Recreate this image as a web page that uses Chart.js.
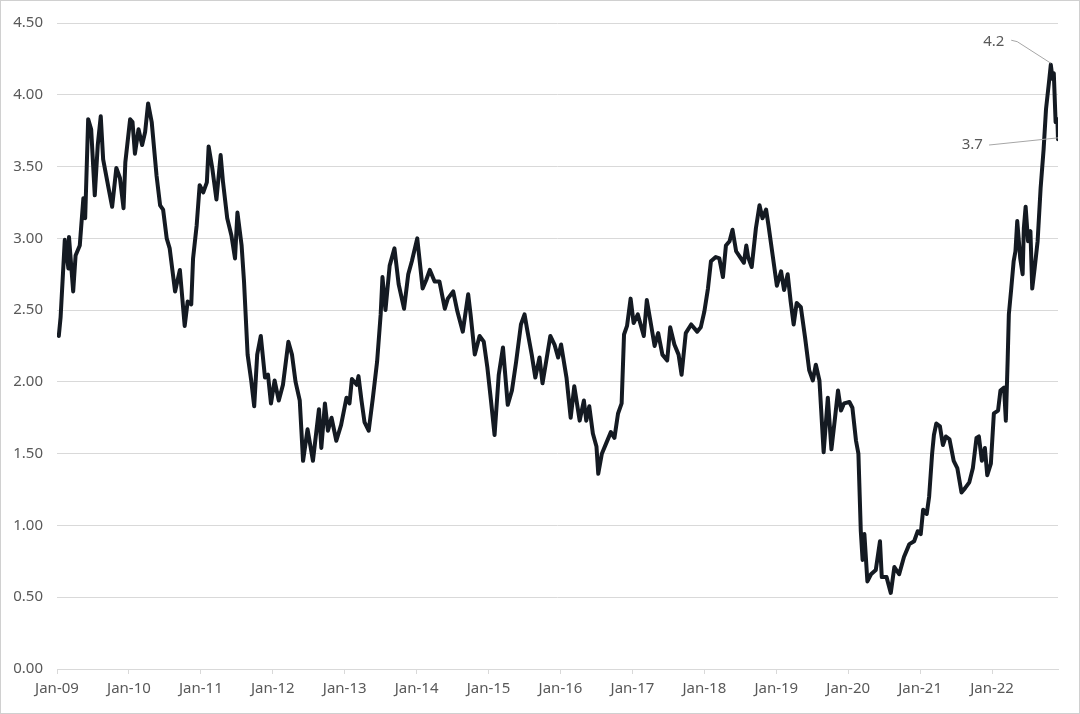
<!DOCTYPE html>
<html>
<head>
<meta charset="utf-8">
<script src="https://cdn.jsdelivr.net/npm/chart.js@4"></script>
<style>
  html, body { margin: 0; padding: 0; background: #fff; }
  #wrap { width: 1080px; height: 714px; }
</style>
</head>
<body>
<div id="wrap"><canvas id="myChart" width="1080" height="714"></canvas></div>
<script>
const months = [
  0.3, 0.6, 1.3, 1.9, 2.0, 2.7, 3.1, 3.8, 4.4, 4.7, 5.2, 5.7, 6.3, 6.8, 7.3, 7.7, 8.6, 9.2, 9.9, 10.5,
  11.1, 11.4, 12.2, 12.6, 13.0, 13.6, 14.2, 14.7, 15.2, 15.8, 16.6, 17.2, 17.7, 18.3, 18.8, 19.7, 20.5, 21.3, 21.8, 22.4,
  22.7, 23.3, 23.8, 24.4, 25.0, 25.3, 25.9, 26.6, 27.3, 27.7, 28.4, 29.1, 29.7, 30.1, 30.8, 31.2, 31.8, 32.4, 32.9, 33.4,
  34.0, 34.7, 35.2, 35.7, 36.3, 37.0, 37.7, 38.6, 39.2, 39.8, 40.5, 41.05, 41.8, 42.7, 43.7, 44.1, 44.7, 45.2, 45.8, 46.6,
  47.4, 48.3, 48.8, 49.2, 50.0, 50.3, 50.8, 51.3, 52.0, 52.7, 53.4, 54.0, 54.3, 54.8, 55.5, 56.3, 57.0, 57.9, 58.6, 59.2,
  60.1, 61.0, 61.6, 62.2, 63.0, 63.8, 64.7, 65.2, 66.1, 66.8, 67.7, 68.6, 69.0, 69.7, 70.5, 71.2, 71.8, 72.4, 73.0, 73.7,
  74.4, 75.2, 75.9, 76.6, 77.4, 78.0, 78.5, 79.2, 79.8, 80.5, 81.0, 81.6, 82.3, 83.0, 83.6, 84.1, 85.0, 85.7, 86.3, 87.2,
  87.9, 88.3, 88.8, 89.4, 90.0, 90.3, 90.9, 91.6, 92.4, 93.0, 93.6, 94.2, 94.6, 95.1, 95.7, 96.2, 96.9, 97.9, 98.4, 99.1,
  99.7, 100.3, 101.0, 101.8, 102.3, 103.0, 103.7, 104.2, 104.9, 105.8, 106.8, 107.4, 108.0, 108.6, 109.1, 109.9, 110.5, 111.1, 111.6, 112.2,
  112.7, 113.3, 114.1, 114.6, 115.0, 115.3, 115.9, 116.6, 117.2, 117.7, 118.3, 118.7, 119.4, 120.1, 120.8, 121.3, 121.9, 122.4, 122.9, 123.4,
  124.1, 124.8, 125.5, 126.1, 126.6, 127.2, 127.9, 128.6, 129.2, 129.8, 130.3, 130.8, 131.3, 132.2, 132.7, 133.3, 133.7, 134.1, 134.4, 134.7,
  135.2, 135.8, 136.6, 137.3, 137.6, 138.4, 139.1, 139.7, 140.5, 141.3, 142.2, 143.0, 143.6, 144.1, 144.5, 145.1, 145.5, 146.0, 146.3, 146.7,
  147.3, 147.8, 148.3, 148.9, 149.6, 150.2, 150.9, 151.5, 152.2, 152.8, 153.4, 153.8, 154.3, 154.8, 155.2, 155.8, 156.3, 157.0, 157.4, 158.0,
  158.3, 158.6, 158.8, 159.2, 159.6, 159.9, 160.2, 160.7, 161.1, 161.3, 161.6, 162.0, 162.4, 162.7, 163.1, 163.6, 164.1, 164.6, 165.0, 165.5,
  165.8, 166.1, 166.3, 166.6, 166.9, 167.0
];
const values = [
  2.32, 2.45, 2.99, 2.79, 3.01, 2.63, 2.88, 2.95, 3.28, 3.14, 3.83, 3.76, 3.30, 3.65, 3.85, 3.55, 3.35, 3.22, 3.49, 3.42,
  3.21, 3.53, 3.83, 3.81, 3.59, 3.76, 3.65, 3.74, 3.94, 3.81, 3.44, 3.23, 3.20, 3.00, 2.93, 2.63, 2.78, 2.39, 2.56, 2.54,
  2.86, 3.09, 3.37, 3.32, 3.39, 3.64, 3.49, 3.27, 3.58, 3.39, 3.14, 3.02, 2.86, 3.18, 2.95, 2.70, 2.19, 2.01, 1.83, 2.19,
  2.32, 2.03, 2.05, 1.85, 2.01, 1.87, 1.98, 2.28, 2.19, 2.00, 1.87, 1.45, 1.67, 1.45, 1.81, 1.54, 1.85, 1.66, 1.75, 1.59,
  1.70, 1.89, 1.85, 2.02, 1.98, 2.04, 1.87, 1.72, 1.66, 1.89, 2.14, 2.47, 2.73, 2.50, 2.81, 2.93, 2.68, 2.51, 2.75, 2.84,
  3.00, 2.65, 2.71, 2.78, 2.70, 2.70, 2.51, 2.58, 2.63, 2.49, 2.35, 2.61, 2.47, 2.19, 2.32, 2.28, 2.10, 1.87, 1.63, 2.05,
  2.24, 1.84, 1.94, 2.14, 2.40, 2.47, 2.35, 2.19, 2.03, 2.17, 1.99, 2.14, 2.32, 2.26, 2.17, 2.26, 2.03, 1.75, 1.97, 1.73,
  1.87, 1.73, 1.83, 1.64, 1.55, 1.36, 1.50, 1.57, 1.65, 1.61, 1.78, 1.85, 2.33, 2.39, 2.58, 2.41, 2.47, 2.32, 2.57, 2.40,
  2.25, 2.34, 2.19, 2.15, 2.38, 2.26, 2.19, 2.05, 2.34, 2.40, 2.35, 2.38, 2.49, 2.65, 2.84, 2.87, 2.86, 2.73, 2.95, 2.98,
  3.06, 2.91, 2.86, 2.83, 2.95, 2.87, 2.80, 3.07, 3.23, 3.14, 3.20, 3.09, 2.88, 2.67, 2.77, 2.64, 2.75, 2.56, 2.40, 2.55,
  2.52, 2.31, 2.08, 2.01, 2.12, 2.01, 1.51, 1.89, 1.53, 1.75, 1.94, 1.80, 1.85, 1.86, 1.82, 1.59, 1.50, 0.96, 0.76, 0.94,
  0.61, 0.66, 0.69, 0.89, 0.64, 0.64, 0.53, 0.71, 0.66, 0.78, 0.87, 0.89, 0.96, 0.94, 1.11, 1.08, 1.20, 1.50, 1.63, 1.71,
  1.69, 1.56, 1.62, 1.60, 1.45, 1.40, 1.23, 1.26, 1.30, 1.40, 1.61, 1.62, 1.45, 1.54, 1.35, 1.43, 1.78, 1.80, 1.94, 1.96,
  1.73, 2.15, 2.47, 2.65, 2.84, 2.91, 3.12, 2.86, 2.75, 3.07, 3.22, 2.98, 3.05, 2.65, 2.79, 2.98, 3.35, 3.62, 3.90, 4.09,
  4.21, 4.11, 4.15, 3.81, 3.83, 3.69
];

// one tick per January
const tickMonths = [0, 12, 24, 36, 48, 60, 72, 84, 96, 108, 120, 132, 144, 156];
const tickLabels = ['Jan-09', 'Jan-10', 'Jan-11', 'Jan-12', 'Jan-13', 'Jan-14', 'Jan-15',
                    'Jan-16', 'Jan-17', 'Jan-18', 'Jan-19', 'Jan-20', 'Jan-21', 'Jan-22'];

// callouts: text, where the text sits, and the leader line (all in data units)
const calloutText = ['4.2', '3.7'];
const calloutAt = [[156.3, 4.37], [152.7, 3.65]];
const calloutLine = [
  [[159.2, 4.38], [160.2, 4.37], [165.8, 4.22]],
  [[155.5, 3.65], [167.0, 3.70]]
];

const FONT = '"Noto Sans", "DejaVu Sans", sans-serif';
const GREY = '#d9d9d9';
const TEXT = '#595959';

const points = months.map((m, i) => ({ x: m, y: values[i] }));

// Leader lines, callout text and the frame round the picture
const extras = {
  id: 'extras',
  afterDatasetsDraw(chart) {
    const ctx = chart.ctx;
    const xs = chart.scales.x, ys = chart.scales.y;
    ctx.save();
    ctx.strokeStyle = '#a6a6a6';
    ctx.lineWidth = 1;
    calloutLine.forEach(pts => {
      ctx.beginPath();
      pts.forEach((p, i) => {
        const px = xs.getPixelForValue(p[0]), py = ys.getPixelForValue(p[1]);
        if (i === 0) ctx.moveTo(px, py); else ctx.lineTo(px, py);
      });
      ctx.stroke();
    });
    ctx.fillStyle = TEXT;
    ctx.font = '15px ' + FONT;
    ctx.textAlign = 'center';
    ctx.textBaseline = 'middle';
    calloutText.forEach((t, i) => {
      ctx.fillText(t, xs.getPixelForValue(calloutAt[i][0]), ys.getPixelForValue(calloutAt[i][1]));
    });
    ctx.strokeStyle = '#d0d0d0';
    ctx.strokeRect(0.5, 0.5, chart.width - 1, chart.height - 1);
    ctx.restore();
  }
};

new Chart(document.getElementById('myChart'), {
  type: 'line',
  data: {
    datasets: [{
      data: points,
      borderColor: '#141a22',
      borderWidth: 4,
      borderJoinStyle: 'round',
      borderCapStyle: 'round',
      pointRadius: 0,
      tension: 0,
      fill: false
    }]
  },
  options: {
    responsive: false,
    animation: false,
    events: [],
    layout: { padding: { top: 18, right: 22, bottom: 0, left: 0 } },
    plugins: { legend: { display: false }, tooltip: { enabled: false } },
    scales: {
      x: {
        type: 'linear',
        min: 0,
        max: 167,
        afterBuildTicks: (axis) => { axis.ticks = tickMonths.map(v => ({ value: v })); },
        afterFit: (axis) => { axis.height = 45; },
        ticks: {
          autoSkip: false,
          maxRotation: 0,
          padding: 6,
          color: TEXT,
          font: { family: FONT, size: 15 },
          callback: (v) => tickLabels[tickMonths.indexOf(v)]
        },
        grid: { drawOnChartArea: false, drawTicks: true, tickLength: 5, color: GREY },
        border: { display: true, color: GREY, width: 1 }
      },
      y: {
        min: 0,
        max: 4.5,
        afterFit: (axis) => { axis.width = 57; },
        ticks: {
          stepSize: 0.5,
          padding: 14,
          color: TEXT,
          font: { family: FONT, size: 15 },
          callback: (v) => v.toFixed(2)
        },
        grid: { color: GREY, lineWidth: 1, drawTicks: false },
        border: { display: false }
      }
    }
  },
  plugins: [extras]
});
</script>
</body>
</html>
